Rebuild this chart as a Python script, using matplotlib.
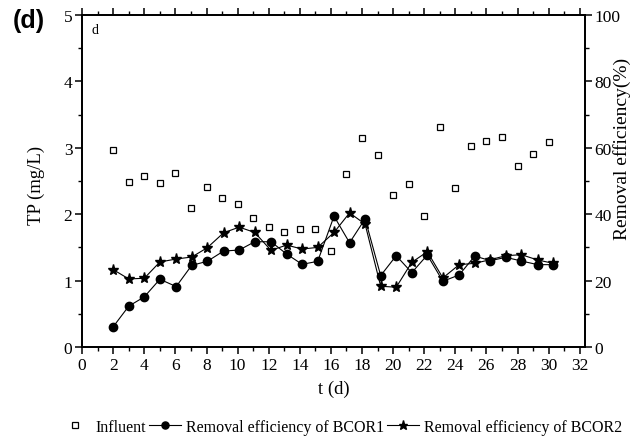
import numpy as np
import matplotlib
matplotlib.use("Agg")
import matplotlib.pyplot as plt
from matplotlib.ticker import MultipleLocator

# influent TP (mg/L), one reading per day
days_in = [2, 3, 4, 5, 6, 7, 8, 9, 10, 11, 12, 13, 14, 15, 16,
           17, 18, 19, 20, 21, 22, 23, 24, 25, 26, 27, 28, 29, 30]
influent = [2.96, 2.49, 2.58, 2.47, 2.62, 2.10, 2.41, 2.25, 2.15, 1.95, 1.80, 1.73, 1.78, 1.78, 1.44,
            2.61, 3.14, 2.89, 2.29, 2.45, 1.98, 3.31, 2.39, 3.03, 3.10, 3.16, 2.73, 2.91, 3.08]

# removal efficiency (%) points sit slightly right of the day ticks
days_eff = [2.0, 3.0, 4.0, 5.0, 6.05, 7.05, 8.05, 9.1, 10.1, 11.1, 12.15, 13.15, 14.15, 15.15, 16.2,
            17.2, 18.2, 19.2, 20.2, 21.2, 22.2, 23.2, 24.25, 25.25, 26.25, 27.25, 28.25, 29.3, 30.3]
bcor1 = [6.1, 12.3, 15.1, 20.4, 18.2, 24.6, 25.8, 28.9, 29.2, 31.7, 31.7, 28.0, 24.9, 25.8, 39.4,
         31.4, 38.6, 21.5, 27.5, 22.4, 27.7, 19.8, 21.7, 27.4, 26.0, 27.0, 25.9, 24.8, 24.8]
bcor2 = [23.3, 20.5, 20.7, 25.6, 26.5, 27.1, 29.9, 34.4, 36.1, 34.5, 29.1, 30.7, 29.5, 30.0, 34.5,
         40.4, 37.0, 18.3, 18.0, 25.5, 28.7, 20.8, 24.8, 25.2, 26.3, 27.5, 27.8, 26.2, 25.2]

plt.rcParams['font.family'] = ['Liberation Serif', 'DejaVu Serif']

fig = plt.figure(figsize=(6.39, 4.39), dpi=100)
ax = fig.add_axes([0.1285, 0.2073, 0.7865, 0.7563])
ax2 = ax.twinx()

sq, = ax.plot(days_in, influent, ls='none', marker='s', ms=5, mfc='white',
              mec='black', mew=0.9)
l1, = ax2.plot(days_eff, bcor1, color='black', lw=0.8, marker='o', ms=6)
l2, = ax2.plot(days_eff, bcor2, color='black', lw=0.8, marker='*', ms=8)

ax.set_xlim(0, 32.32)
ax.set_ylim(0, 5)
ax2.set_ylim(0, 100)

ax.xaxis.set_major_locator(MultipleLocator(2))
ax.xaxis.set_minor_locator(MultipleLocator(1))
ax.yaxis.set_major_locator(MultipleLocator(1))
ax.yaxis.set_minor_locator(MultipleLocator(0.5))
ax2.yaxis.set_major_locator(MultipleLocator(20))
ax2.yaxis.set_minor_locator(MultipleLocator(10))

for a in (ax, ax2):
    for s in a.spines.values():
        s.set_linewidth(1.3)
ax.tick_params(which='major', direction='out', length=5, width=1.1, labelsize=12.5, pad=2,
               top=True)
ax.tick_params(which='minor', direction='out', length=3, width=1.0, top=True)
ax2.tick_params(which='major', direction='out', length=5, width=1.1, labelsize=12.5, pad=2)
ax2.tick_params(which='minor', direction='out', length=3, width=1.0)

ax.set_xlabel('t (d)', fontsize=13.5, labelpad=5)
ax.set_ylabel('TP (mg/L)', fontsize=13.5)
ax.yaxis.set_label_coords(-0.074, 0.49)
ax2.set_ylabel('Removal efficiency(%)', fontsize=14)
ax2.yaxis.set_label_coords(1.057, 0.60)

ax.text(0.018, 0.975, 'd', transform=ax.transAxes, fontsize=10, va='top', ha='left')
fig.text(0.02, 0.953, '(d)', fontsize=18, fontweight='bold', family='Liberation Sans',
         ha='left', va='center')

fig.legend([sq, l1, l2],
           ['Influent', 'Removal efficiency of BCOR1', 'Removal efficiency of BCOR2'],
           loc='center', bbox_to_anchor=(0.533, 0.025), ncol=3, frameon=False,
           fontsize=11.5, handlelength=2.0, handletextpad=0.3, columnspacing=0.2,
           borderpad=0, markerscale=0.85)

fig.savefig('out.png', dpi=100)
